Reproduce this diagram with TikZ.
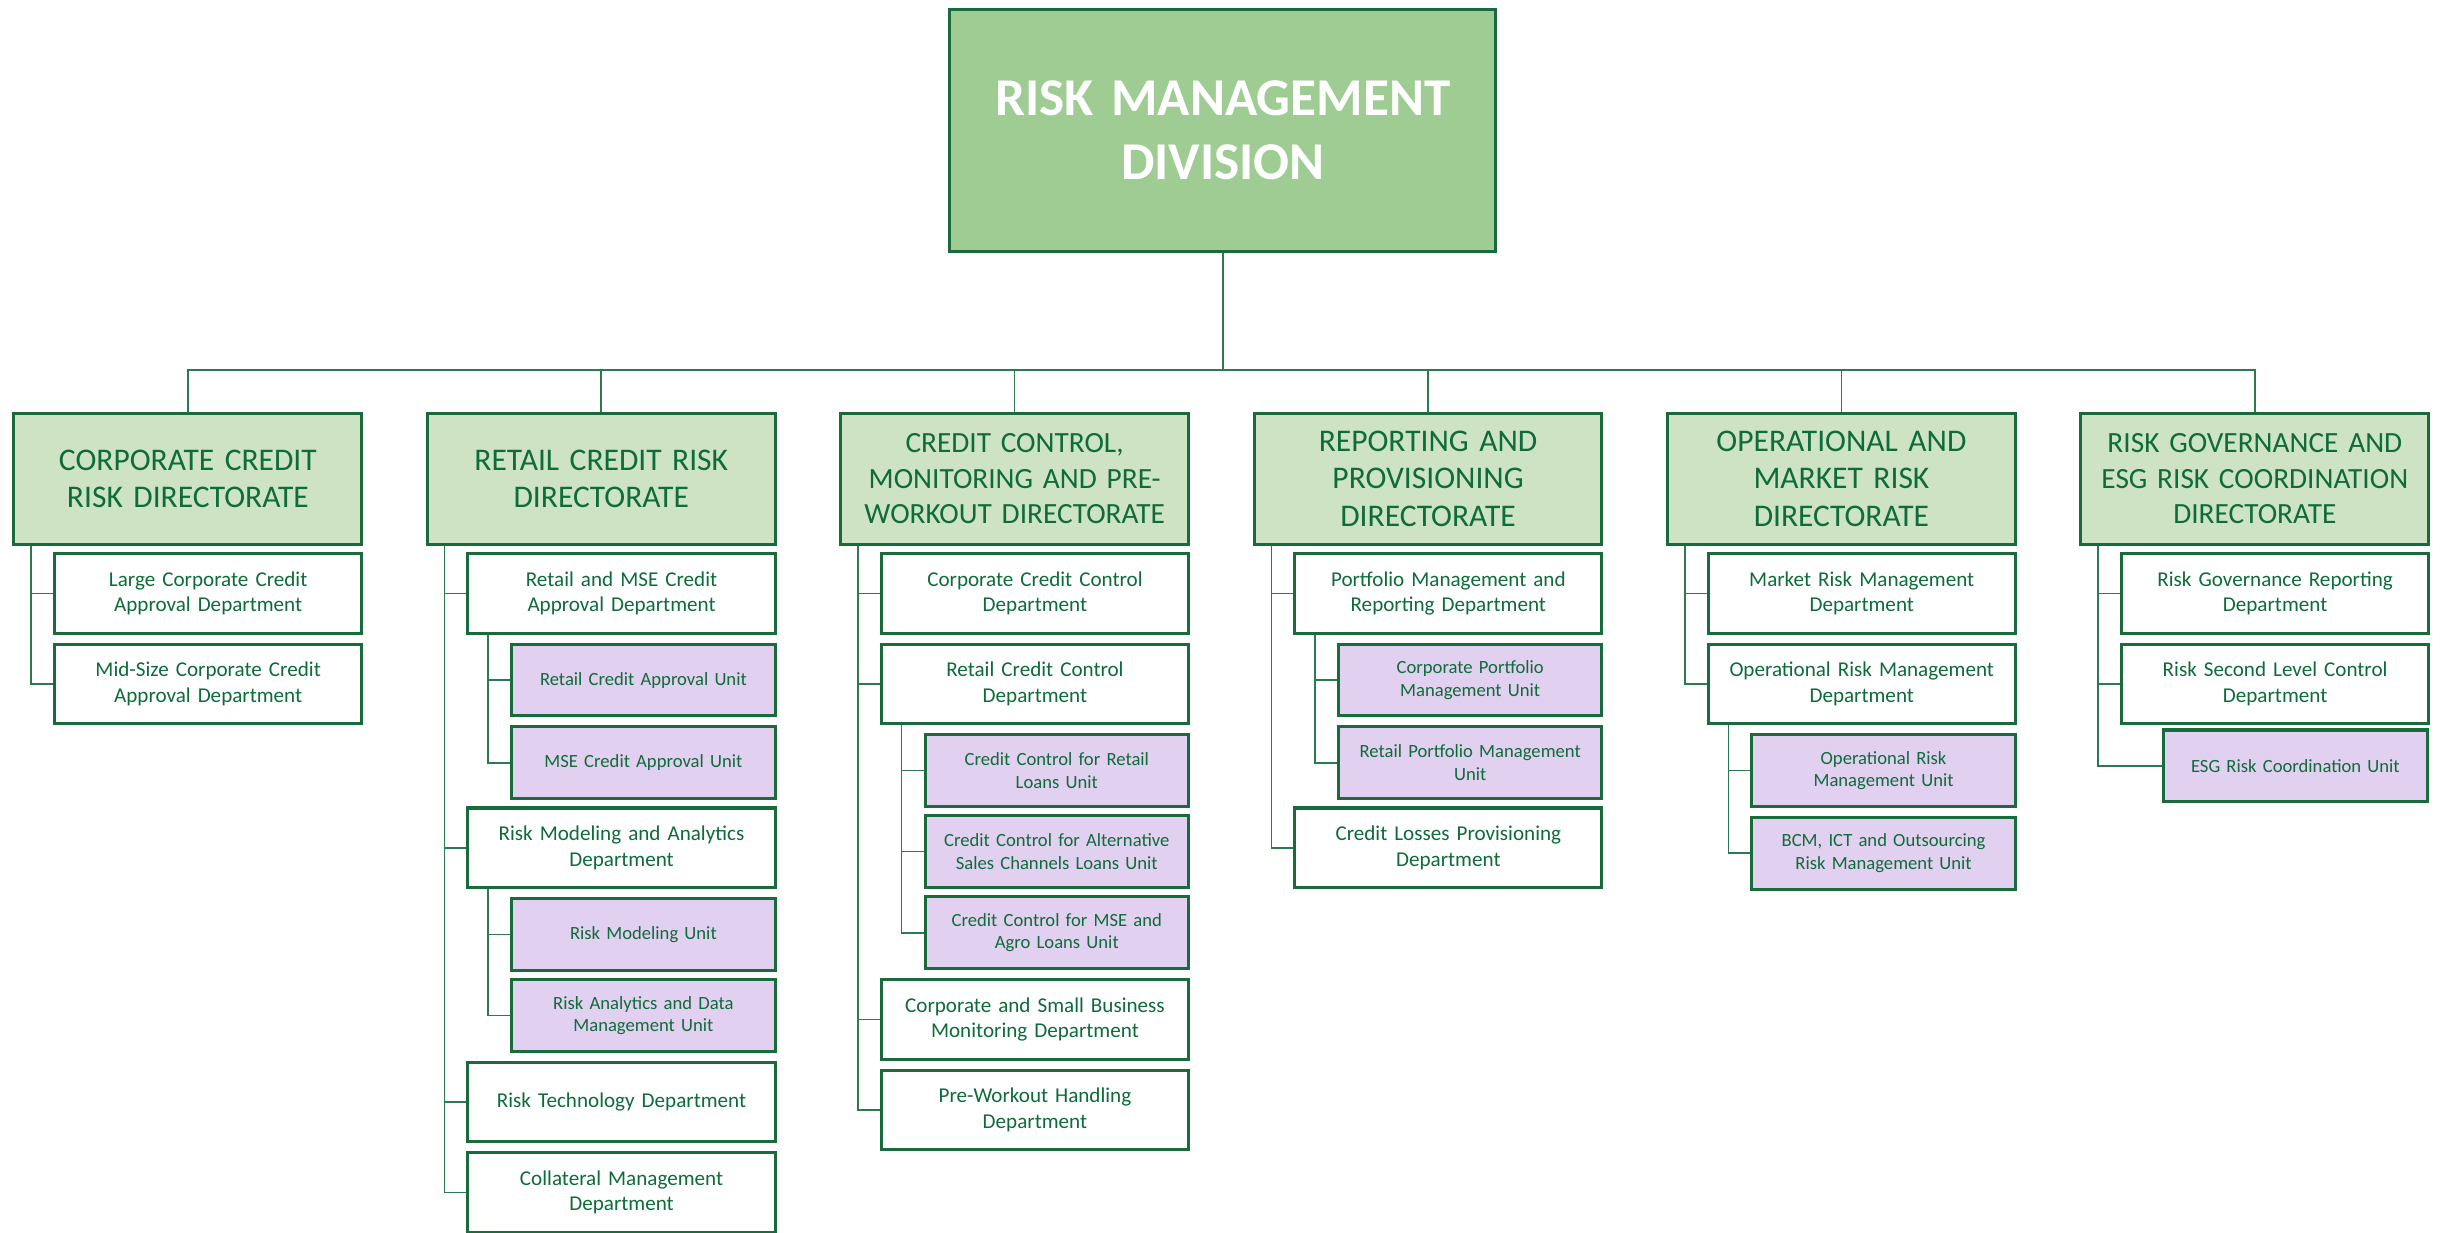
\documentclass[tikz,border=0pt]{standalone}
\usepackage{fontspec}
\setmainfont{Carlito}
\usepackage{xcolor}
\usetikzlibrary{calc}
\definecolor{rmborder}{HTML}{1A6B3C}
\definecolor{rmtext}{HTML}{0E6B3A}
\definecolor{rmtop}{HTML}{9ECC92}
\definecolor{rmdir}{HTML}{CDE3C4}
\definecolor{rmunit}{HTML}{E2D0F0}
\definecolor{rmline}{HTML}{2E7A50}
\tikzset{
  box/.style={draw=rmborder, line width=1.1pt, text=rmtext, align=center, anchor=north west, inner sep=0pt},
  division/.style={box, fill=rmtop, text=white, font=\fontsize{19.4}{23.2}\selectfont\bfseries, minimum width=7cm, minimum height=3.1cm, text width=6.6cm},
  directorate/.style={box, fill=rmdir, font=\fontsize{11.5}{13.8}\selectfont, minimum width=4.46cm, minimum height=1.68cm, text width=4.3cm},
  dirsmall/.style={directorate, font=\fontsize{10.7}{12.9}\selectfont},
  dept/.style={box, fill=white, font=\fontsize{7.7}{9.2}\selectfont, minimum width=3.94cm, minimum height=1.02cm, text width=3.7cm},
  unit/.style={box, fill=rmunit, font=\fontsize{6.8}{8.2}\selectfont, minimum width=3.38cm, minimum height=0.92cm, text width=3.2cm},
  link/.style={draw=rmline, line width=0.6pt}
}
\begin{document}
\begin{tikzpicture}[x=0.02cm, y=-0.02cm]
\useasboundingbox (0,0) rectangle (1568,790);
\node[division] (rmd) at (608,5) {RISK MANAGEMENT\\DIVISION};
\node[directorate] (ccr) at (8,264) {CORPORATE CREDIT\\RISK DIRECTORATE};
\node[directorate] (rcr) at (273,264) {RETAIL CREDIT RISK\\DIRECTORATE};
\node[dirsmall] (ccm) at (538,264) {CREDIT CONTROL,\\MONITORING AND PRE-\\WORKOUT DIRECTORATE};
\node[directorate] (rpd) at (803,264) {REPORTING AND\\PROVISIONING\\DIRECTORATE};
\node[directorate] (omr) at (1068,264) {OPERATIONAL AND\\MARKET RISK\\DIRECTORATE};
\node[dirsmall] (rge) at (1333,264) {RISK GOVERNANCE AND\\ESG RISK COORDINATION\\DIRECTORATE};

\node[dept] (ccr1) at (34,354) {Large Corporate Credit\\Approval Department};
\node[dept] (ccr2) at (34,412) {Mid-Size Corporate Credit\\Approval Department};

\node[dept] (rcr1) at (299,354) {Retail and MSE Credit\\Approval Department};
\node[unit] (rcr1a) at (327,412) {Retail Credit Approval Unit};
\node[unit] (rcr1b) at (327,465) {MSE Credit Approval Unit};
\node[dept] (rcr2) at (299,517) {Risk Modeling and Analytics\\Department};
\node[unit] (rcr2a) at (327,575) {Risk Modeling Unit};
\node[unit] (rcr2b) at (327,627) {Risk Analytics and Data\\Management Unit};
\node[dept] (rcr3) at (299,680) {Risk Technology Department};
\node[dept] (rcr4) at (299,738) {Collateral Management\\Department};

\node[dept] (ccm1) at (564,354) {Corporate Credit Control\\Department};
\node[dept] (ccm2) at (564,412) {Retail Credit Control\\Department};
\node[unit] (ccm2a) at (592,470) {Credit Control for Retail\\Loans Unit};
\node[unit] (ccm2b) at (592,522) {Credit Control for Alternative\\Sales Channels Loans Unit};
\node[unit] (ccm2c) at (592,574) {Credit Control for MSE and\\Agro Loans Unit};
\node[dept] (ccm3) at (564,627) {Corporate and Small Business\\Monitoring Department};
\node[dept] (ccm4) at (564,685) {Pre-Workout Handling\\Department};

\node[dept] (rpd1) at (829,354) {Portfolio Management and\\Reporting Department};
\node[unit] (rpd1a) at (857,412) {Corporate Portfolio\\Management Unit};
\node[unit] (rpd1b) at (857,465) {Retail Portfolio Management\\Unit};
\node[dept] (rpd2) at (829,517) {Credit Losses Provisioning\\Department};

\node[dept] (omr1) at (1094,354) {Market Risk Management\\Department};
\node[dept] (omr2) at (1094,412) {Operational Risk Management\\Department};
\node[unit] (omr2a) at (1122,470) {Operational Risk\\Management Unit};
\node[unit] (omr2b) at (1122,523) {BCM, ICT and Outsourcing\\Risk Management Unit};

\node[dept] (rge1) at (1359,354) {Risk Governance Reporting\\Department};
\node[dept] (rge2) at (1359,412) {Risk Second Level Control\\Department};
\node[unit] (rge3) at (1386,467) {ESG Risk Coordination Unit};

\coordinate (bus) at (783,237);
\foreach \d in {ccr,rcr,ccm,rpd,omr,rge}
  \draw[link] (rmd.south) -- (rmd.south |- bus) -| (\d.north);
\foreach \p/\c in {ccr/ccr1,ccr/ccr2,rcr/rcr1,rcr/rcr2,rcr/rcr3,rcr/rcr4,ccm/ccm1,ccm/ccm2,ccm/ccm3,ccm/ccm4,rpd/rpd1,rpd/rpd2,omr/omr1,omr/omr2,rge/rge1,rge/rge2,rge/rge3}
  \draw[link] ($(\p.south west)+(12,0)$) |- (\c.west);
\foreach \p/\c in {rcr1/rcr1a,rcr1/rcr1b,rcr2/rcr2a,rcr2/rcr2b,ccm2/ccm2a,ccm2/ccm2b,ccm2/ccm2c,rpd1/rpd1a,rpd1/rpd1b,omr2/omr2a,omr2/omr2b}
  \draw[link] ($(\p.south west)+(14,0)$) |- (\c.west);
\end{tikzpicture}
\end{document}
